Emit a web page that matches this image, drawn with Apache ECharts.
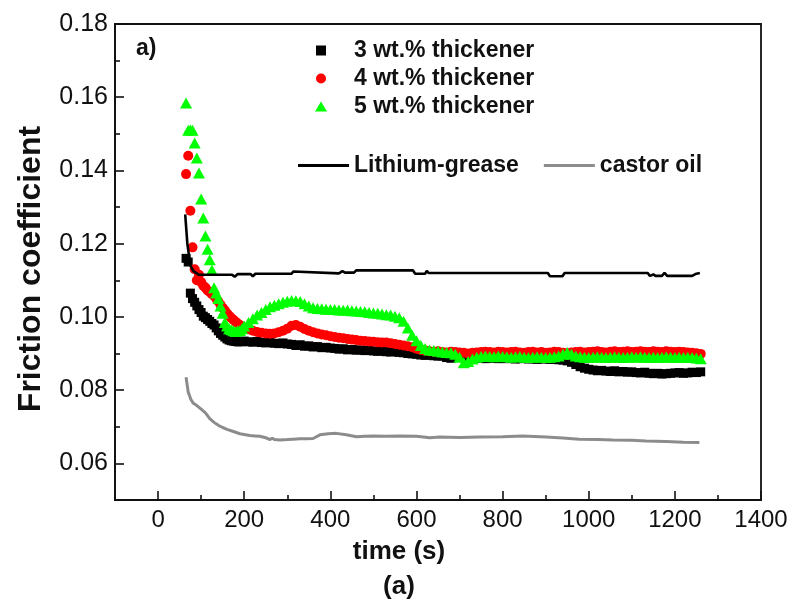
<!DOCTYPE html>
<html>
<head>
<meta charset="utf-8">
<script src="https://cdn.jsdelivr.net/npm/echarts@6/dist/echarts.min.js"></script>
<style>html,body{margin:0;padding:0;background:#fff}#c{width:792px;height:606px}</style>
</head>
<body>
<div id="c"></div>
<script>
// ---- data ----
const times = [65,70,75,80,85,90,95,100,105,110,115,120,125,130,135,140,145,150,155,160,165,170,175,180,185,190,195,200,
  210,220,230,240,250,260,270,280,290,300,
  310,320,330,340,350,360,370,380,390,400,
  410,420,430,440,450,460,470,480,490,500,
  510,520,530,540,550,560,570,580,590,600,
  610,620,630,640,650,660,670,680,690,700,
  710,720,730,740,750,760,770,780,790,800,
  810,820,830,840,850,860,870,880,890,900,
  910,920,930,940,950,960,970,980,990,1000,
  1010,1020,1030,1040,1050,1060,1070,1080,1090,1100,
  1110,1120,1130,1140,1150,1160,1170,1180,1190,1200,
  1210,1220,1230,1240,1250,1260];

const wt3 = [0.1160,0.1150,0.1065,0.1050,0.1040,0.1030,0.1020,0.1012,0.1002,0.0998,0.0993,0.0988,0.0982,0.0978,0.0970,0.0962,0.0955,0.0950,0.0945,0.0940,0.0937,0.0935,0.0934,0.0933,0.0932,0.0932,0.0933,0.0934,
  0.0932,0.0931,0.0933,0.0930,0.0929,0.0931,0.0928,0.0927,0.0929,0.0926,
  0.0925,0.0922,0.0924,0.0920,0.0921,0.0918,0.0919,0.0916,0.0917,0.0915,
  0.0914,0.0912,0.0913,0.0910,0.0911,0.0909,0.0910,0.0908,0.0909,0.0907,
  0.0906,0.0907,0.0905,0.0904,0.0906,0.0903,0.0902,0.0900,0.0899,0.0898,
  0.0896,0.0895,0.0896,0.0894,0.0893,0.0893,0.0889,0.0887,0.0890,0.0890,
  0.0889,0.0888,0.0889,0.0887,0.0888,0.0886,0.0887,0.0888,0.0886,0.0887,
  0.0886,0.0887,0.0885,0.0886,0.0887,0.0885,0.0886,0.0884,0.0885,0.0886,
  0.0884,0.0885,0.0883,0.0882,0.0880,0.0876,0.0870,0.0864,0.0860,0.0857,
  0.0855,0.0853,0.0854,0.0852,0.0851,0.0853,0.0850,0.0851,0.0849,0.0850,
  0.0848,0.0847,0.0849,0.0846,0.0845,0.0846,0.0844,0.0845,0.0846,0.0847,
  0.0848,0.0846,0.0847,0.0849,0.0848,0.0850];

const wt4 = [0.1390,0.1440,0.1290,0.1190,0.1130,0.1100,0.1115,0.1095,0.1085,0.1080,0.1072,0.1068,0.1062,0.1058,0.1050,0.1042,0.1033,0.1025,0.1018,0.1010,0.1003,0.0997,0.0992,0.0987,0.0982,0.0978,0.0974,0.0970,
  0.0966,0.0962,0.0959,0.0957,0.0955,0.0954,0.0955,0.0958,0.0962,0.0968,
  0.0976,0.0978,0.0973,0.0967,0.0962,0.0958,0.0955,0.0952,0.0950,0.0947,
  0.0945,0.0943,0.0942,0.0940,0.0938,0.0937,0.0935,0.0934,0.0933,0.0932,
  0.0931,0.0930,0.0930,0.0928,0.0926,0.0924,0.0922,0.0920,0.0917,0.0913,
  0.0910,0.0908,0.0906,0.0905,0.0906,0.0904,0.0903,0.0905,0.0904,0.0903,
  0.0902,0.0900,0.0902,0.0903,0.0904,0.0905,0.0904,0.0903,0.0905,0.0904,
  0.0903,0.0904,0.0905,0.0903,0.0902,0.0904,0.0905,0.0903,0.0904,0.0902,
  0.0903,0.0905,0.0904,0.0902,0.0901,0.0903,0.0904,0.0905,0.0903,0.0904,
  0.0905,0.0906,0.0904,0.0903,0.0905,0.0906,0.0904,0.0905,0.0906,0.0904,
  0.0905,0.0906,0.0905,0.0904,0.0906,0.0905,0.0904,0.0906,0.0905,0.0904,
  0.0905,0.0904,0.0903,0.0902,0.0901,0.0899];

const wt5 = [0.1584,0.1510,0.1511,0.1510,0.1475,0.1434,0.1393,0.1322,0.1270,0.1221,0.1185,0.1156,0.1128,0.1080,0.1065,0.1050,0.1030,0.1010,0.0985,0.0975,0.0968,0.0965,0.0962,0.0960,0.0962,0.0963,0.0968,0.0975,
  0.0985,0.0995,0.1005,0.1012,0.1020,0.1028,0.1032,0.1036,0.1040,0.1043,
  0.1045,0.1044,0.1042,0.1036,0.1030,0.1025,0.1023,0.1022,0.1021,0.1020,
  0.1020,0.1019,0.1018,0.1019,0.1017,0.1016,0.1015,0.1014,0.1012,0.1011,
  0.1010,0.1008,0.1006,0.1005,0.1002,0.0998,0.0988,0.0970,0.0950,0.0935,
  0.0922,0.0914,0.0910,0.0908,0.0906,0.0904,0.0903,0.0902,0.0898,0.0890,
  0.0875,0.0878,0.0885,0.0890,0.0892,0.0893,0.0892,0.0891,0.0893,0.0892,
  0.0891,0.0890,0.0891,0.0892,0.0890,0.0889,0.0890,0.0891,0.0890,0.0889,
  0.0890,0.0891,0.0893,0.0898,0.0903,0.0898,0.0893,0.0891,0.0890,0.0889,
  0.0890,0.0891,0.0890,0.0889,0.0890,0.0891,0.0890,0.0889,0.0890,0.0891,
  0.0890,0.0891,0.0890,0.0889,0.0890,0.0889,0.0890,0.0891,0.0890,0.0889,
  0.0890,0.0889,0.0890,0.0889,0.0888,0.0886];

const liTime  = [63,68,75,82,95,150,172,178,185,215,220,226,310,314,318,420,428,434,455,460,561,592,597,620,624,628,905,910,939,944,1137,1142,1150,1155,1170,1176,1182,1240,1250,1258];
const liValue = [0.1280,0.1200,0.1140,0.1125,0.1115,0.1115,0.1115,0.1110,0.1117,0.1117,0.1111,0.1118,0.1118,0.1124,0.1119,0.1119,0.1125,0.1121,0.1121,0.1127,0.1127,0.1127,0.1118,0.1118,0.1126,0.1120,0.1120,0.1111,0.1111,0.1120,0.1120,0.1112,0.1116,0.1112,0.1112,0.1120,0.1112,0.1112,0.1118,0.1120];

const coTime  = [65,70,76,82,90,100,110,120,130,140,150,160,175,190,200,213,225,236,250,260,265,270,283,300,314,330,345,360,376,395,414,437,461,480,499,530,560,600,631,654,700,747,800,847,901,940,978,1020,1056,1100,1133,1180,1220,1257];
const coValue = [0.0835,0.0795,0.0775,0.0764,0.0758,0.0748,0.0738,0.0722,0.0712,0.0704,0.0698,0.0693,0.0687,0.0681,0.0679,0.0676,0.0675,0.0674,0.0670,0.0665,0.0669,0.0665,0.0664,0.0665,0.0666,0.0667,0.0667,0.0668,0.0678,0.0681,0.0682,0.0678,0.0673,0.0674,0.0675,0.0674,0.0675,0.0674,0.0670,0.0672,0.0671,0.0672,0.0673,0.0675,0.0672,0.0669,0.0666,0.0665,0.0664,0.0663,0.0661,0.0660,0.0658,0.0657];

const xLabels = [0,200,400,600,800,1000,1200,1400];
const xMinor  = [100,300,500,700,900,1100,1300];
const yLabels = [0.06,0.08,0.10,0.12,0.14,0.16,0.18];
const yMinor  = [0.07,0.09,0.11,0.13,0.15,0.17];

const seriesNames = ['3 wt.% thickener','4 wt.% thickener','5 wt.% thickener','Lithium-grease','castor oil'];

// ---- build ----
const pair = (xs, ys) => xs.map((x, i) => [x, ys[i]]);
const FONT = 'Liberation Sans';
const INK = '#111';
const chart = echarts.init(document.getElementById('c'), null, {renderer: 'canvas'});

const xBase = {type:'value', min:-100, max:1400, gridIndex:0, position:'bottom', splitLine:{show:false}};
const yBase = {type:'value', min:0.05, max:0.18, gridIndex:0, position:'left', splitLine:{show:false}};
const tickLine = {color:INK, width:1.6};

chart.setOption({
  animation: false,
  backgroundColor: '#fff',
  grid: {left:115, top:24, right:31, bottom:106, show:true, borderColor:INK, borderWidth:1.8, backgroundColor:'transparent'},
  xAxis: [
    Object.assign({}, xBase, {
      axisLine:{show:true, onZero:false, lineStyle:{color:INK, width:1.8}},
      axisTick:{show:true, inside:true, length:9, customValues:xLabels, lineStyle:tickLine},
      axisLabel:{show:true, customValues:xLabels, margin:8, color:INK, fontFamily:FONT, fontSize:24,
        formatter: v => String(v)}
    }),
    Object.assign({}, xBase, {
      axisLine:{show:false, onZero:false},
      axisTick:{show:true, inside:true, length:5, customValues:xMinor, lineStyle:tickLine},
      axisLabel:{show:false}
    })
  ],
  yAxis: [
    Object.assign({}, yBase, {
      axisLine:{show:true, onZero:false, lineStyle:{color:INK, width:1.8}},
      axisTick:{show:true, inside:true, length:9, customValues:yLabels, lineStyle:tickLine},
      axisLabel:{show:true, customValues:yLabels, margin:7, color:INK, fontFamily:FONT, fontSize:25,
        formatter: v => v.toFixed(2)},
      name:'Friction coefficient', nameLocation:'middle', nameGap:68,
      nameTextStyle:{fontFamily:FONT, fontSize:32, fontWeight:'bold', color:INK, padding:[0,14,0,0]}
    }),
    Object.assign({}, yBase, {
      axisLine:{show:false, onZero:false},
      axisTick:{show:true, inside:true, length:5, customValues:yMinor, lineStyle:tickLine},
      axisLabel:{show:false}
    })
  ],
  legend: [
    {
      data: [
        {name:seriesNames[0], icon:'path://M0,0H10V10H0Z'},
        {name:seriesNames[1], icon:'circle'},
        {name:seriesNames[2], icon:'path://M6,0L12,10L0,10Z'}
      ],
      orient:'vertical', left:315, top:39, padding:0, itemGap:5,
      itemWidth:56, itemHeight:10,
      textStyle:{fontFamily:FONT, fontSize:23, fontWeight:'bold', color:INK}
    },
    {
      data: [
        {name:seriesNames[3], icon:'rect'},
        {name:seriesNames[4], icon:'rect'}
      ],
      orient:'horizontal', left:298, top:154, padding:0, itemGap:25,
      itemWidth:51, itemHeight:3,
      textStyle:{fontFamily:FONT, fontSize:23, fontWeight:'bold', color:INK}
    }
  ],
  graphic: [
    {type:'text', left:136, top:37, style:{text:'a)', fontFamily:FONT, fontSize:23, fontWeight:'bold', fill:INK}},
    {type:'text', x:399, y:552, style:{text:'time (s)', fontFamily:FONT, fontSize:26, fontWeight:'bold', fill:INK, align:'center', verticalAlign:'middle'}},
    {type:'text', x:399, y:587, style:{text:'(a)', fontFamily:FONT, fontSize:26, fontWeight:'bold', fill:INK, align:'center', verticalAlign:'middle'}}
  ],
  series: [
    {name:seriesNames[0], type:'scatter', symbol:'rect', symbolSize:9, itemStyle:{color:'#000', opacity:1}, data:pair(times, wt3)},
    {name:seriesNames[1], type:'scatter', symbol:'circle', symbolSize:10, itemStyle:{color:'#ff0000', opacity:1}, data:pair(times, wt4)},
    {name:seriesNames[2], type:'scatter', symbol:'triangle', symbolSize:[12,11], itemStyle:{color:'#00ff00', opacity:1}, data:pair(times, wt5)},
    {name:seriesNames[3], type:'line', symbol:'none', lineStyle:{color:'#000', width:2.6}, itemStyle:{color:'#000'}, data:pair(liTime, liValue), z:5},
    {name:seriesNames[4], type:'line', symbol:'none', lineStyle:{color:'#8c8c8c', width:3}, itemStyle:{color:'#8c8c8c'}, data:pair(coTime, coValue), z:5}
  ]
});
</script>
</body>
</html>
